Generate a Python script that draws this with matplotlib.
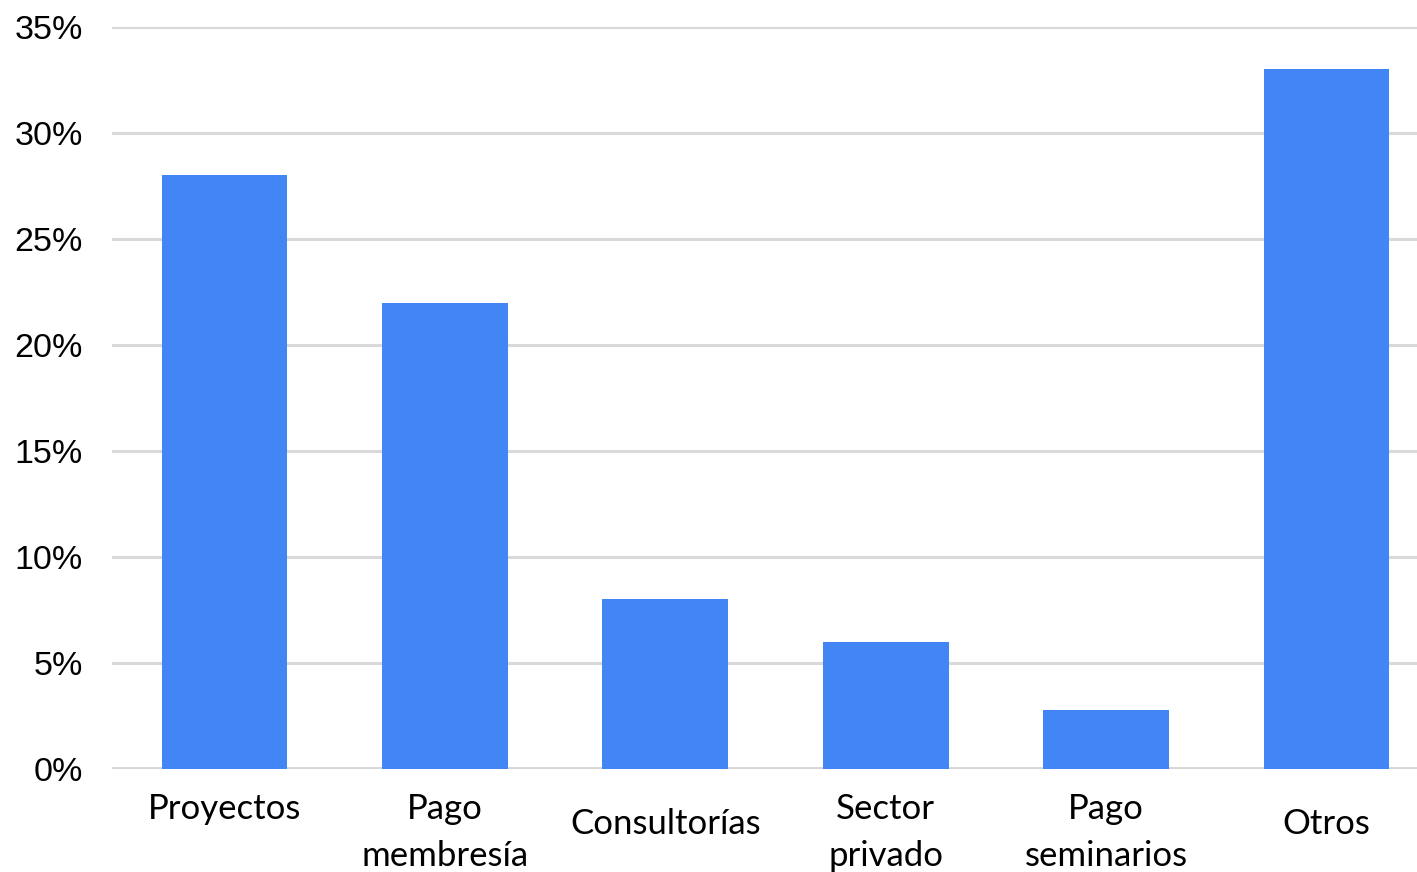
import matplotlib
matplotlib.use("Agg")
import matplotlib.pyplot as plt
import matplotlib.transforms as mtransforms
from matplotlib.ticker import FuncFormatter

categorias = ["Proyectos", "Pago\nmembresía", "Consultorías", "Sector\nprivado", "Pago\nseminarios", "Otros"]
valores = [28, 22, 8, 6, 2.8, 33]
ticks_y = [0, 5, 10, 15, 20, 25, 30, 35]


def main():
	fig = plt.figure(figsize=(14.17, 8.72), dpi=100)
	ax = fig.add_axes([112 / 1417, 1 - 769 / 872, 1 - 112 / 1417, (769 - 27) / 872])

	x = list(range(len(categorias)))
	ax.bar(x, valores, width=0.57, color="#4285F4", zorder=3)

	ax.set_ylim(0, 35)
	ax.set_xlim(-0.51, 5.41)
	ax.set_yticks(ticks_y)
	ax.yaxis.set_major_formatter(FuncFormatter(lambda v, p: "%d%%" % v))
	ax.grid(axis="y", color="#d9d9d9", linewidth=2.2, zorder=0)
	ax.axhline(0, color="#d6d6d6", linewidth=2.8, zorder=2)
	ax.set_axisbelow(True)
	for s in ax.spines.values():
		s.set_visible(False)
	ax.tick_params(axis="y", length=0, pad=21, labelsize=24.5)
	for lab in ax.get_yticklabels():
		lab.set_fontfamily(["Liberation Sans", "DejaVu Sans"])
	ax.tick_params(axis="x", length=0, labelbottom=False)

	# Beschriftungen unter den Balken
	trans = mtransforms.blended_transform_factory(ax.transData, fig.transFigure)
	for i, c in enumerate(categorias):
		if "\n" in c or c == "Proyectos":
			ax.text(i, 1 - 793 / 872, c, transform=trans, ha="center", va="top",
				fontsize=25, family=["Lato", "DejaVu Sans"], linespacing=1.58)
		else:
			ax.text(i, 1 - 824 / 872, c, transform=trans, ha="center", va="center",
				fontsize=25, family=["Lato", "DejaVu Sans"])

	fig.savefig("out.png", dpi=100)


if __name__ == "__main__":
	main()
